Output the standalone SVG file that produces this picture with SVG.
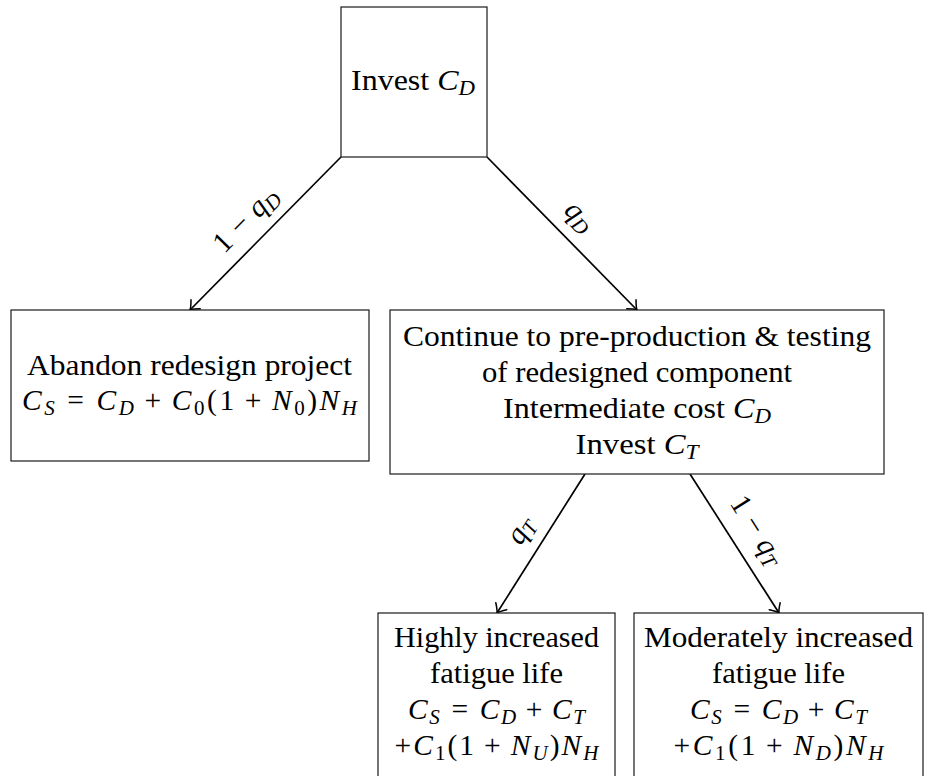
<svg xmlns="http://www.w3.org/2000/svg" width="933" height="776" viewBox="0 0 933 776">
<style>
.box { fill: #fff; stroke: #1a1a1a; stroke-width: 1.2; }
.t { font-family: "Liberation Serif", "Times New Roman", serif; font-size: 29.5px; fill: #000; }
.c { text-anchor: middle; }
.m { font-style: italic; }
.s { font-size: 21px; }
.arr { stroke: #000; stroke-width: 1.7; fill: none; marker-end: url(#ah); }
</style>
<defs>
<marker id="ah" viewBox="-10 -8 12 16" refX="0" refY="0" markerWidth="12" markerHeight="16" markerUnits="userSpaceOnUse" orient="auto" overflow="visible">
<path d="M-8,-6.5 Q-3,-1.5 0,0 Q-3,1.5 -8,6.5" fill="none" stroke="#000" stroke-width="1.5" stroke-linecap="round"/>
</marker>
</defs>

<g id="connectors">
<line class="arr" x1="341" y1="157" x2="190" y2="310"/>
<line class="arr" x1="487" y1="157" x2="637" y2="310"/>
<line class="arr" x1="585" y1="474" x2="497" y2="613"/>
<line class="arr" x1="690" y1="474" x2="779" y2="613"/>
<g transform="translate(252,226) rotate(-45.4)"><text class="t c" x="0" y="0">1<tspan dx="9">−</tspan><tspan class="m" dx="9">q</tspan><tspan class="m s" dy="5">D</tspan></text></g>
<g transform="translate(573.4,222.3) rotate(45.6)"><text class="t c" x="0" y="0"><tspan class="m">q</tspan><tspan class="m s" dy="5">D</tspan></text></g>
<g transform="translate(527.7,535.1) rotate(-57.8)"><text class="t c" x="0" y="0"><tspan class="m">q</tspan><tspan class="m s" dy="5">T</tspan></text></g>
<g transform="translate(749.5,535) rotate(57.8)"><text class="t c" x="0" y="0">1<tspan dx="9">−</tspan><tspan class="m" dx="9">q</tspan><tspan class="m s" dy="5">T</tspan></text></g>
</g>

<g id="invest">
<rect class="box" x="341" y="7" width="146" height="150"/>
<text class="t" x="351" y="90" textLength="124" lengthAdjust="spacingAndGlyphs">Invest <tspan class="m">C</tspan><tspan class="m s" dy="5">D</tspan></text>
</g>

<g id="abandon">
<rect class="box" x="11" y="310" width="358" height="151"/>
<text class="t" x="27" y="375" textLength="325" lengthAdjust="spacingAndGlyphs">Abandon redesign project</text>
<text class="t" x="22" y="410" textLength="335" lengthAdjust="spacing"><tspan class="m">C</tspan><tspan class="m s" dy="5">S</tspan><tspan dy="-5" dx="10">=</tspan><tspan class="m" dx="10">C</tspan><tspan class="m s" dy="5">D</tspan><tspan dy="-5" dx="8">+</tspan><tspan class="m" dx="8">C</tspan><tspan class="s" dy="5">0</tspan><tspan dy="-5">(1</tspan><tspan dx="8">+</tspan><tspan class="m" dx="8">N</tspan><tspan class="s" dy="5">0</tspan><tspan dy="-5">)</tspan><tspan class="m">N</tspan><tspan class="m s" dy="5">H</tspan></text>
</g>

<g id="continue">
<rect class="box" x="390" y="310" width="494" height="164"/>
<text class="t" x="403" y="346" textLength="468" lengthAdjust="spacingAndGlyphs">Continue to pre-production &amp; testing</text>
<text class="t" x="482" y="382" textLength="310" lengthAdjust="spacingAndGlyphs">of redesigned component</text>
<text class="t" x="503" y="418" textLength="268" lengthAdjust="spacingAndGlyphs">Intermediate cost <tspan class="m">C</tspan><tspan class="m s" dy="5">D</tspan></text>
<text class="t" x="575.5" y="454" textLength="123" lengthAdjust="spacingAndGlyphs">Invest <tspan class="m">C</tspan><tspan class="m s" dy="5">T</tspan></text>
</g>

<g id="highly">
<rect class="box" x="378" y="613" width="237" height="200"/>
<text class="t" x="394" y="647" textLength="205" lengthAdjust="spacingAndGlyphs">Highly increased</text>
<text class="t" x="430" y="683" textLength="133" lengthAdjust="spacingAndGlyphs">fatigue life</text>
<text class="t" x="408" y="719" textLength="177" lengthAdjust="spacing"><tspan class="m">C</tspan><tspan class="m s" dy="5">S</tspan><tspan dy="-5" dx="10">=</tspan><tspan class="m" dx="10">C</tspan><tspan class="m s" dy="5">D</tspan><tspan dy="-5" dx="8">+</tspan><tspan class="m" dx="8">C</tspan><tspan class="m s" dy="5">T</tspan></text>
<text class="t" x="394.5" y="755" textLength="204" lengthAdjust="spacing">+<tspan class="m">C</tspan><tspan class="s" dy="5">1</tspan><tspan dy="-5">(1</tspan><tspan dx="8">+</tspan><tspan class="m" dx="8">N</tspan><tspan class="m s" dy="5">U</tspan><tspan dy="-5">)</tspan><tspan class="m">N</tspan><tspan class="m s" dy="5">H</tspan></text>
</g>

<g id="moderately">
<rect class="box" x="634" y="613" width="289" height="200"/>
<text class="t" x="644" y="647" textLength="269" lengthAdjust="spacingAndGlyphs">Moderately increased</text>
<text class="t" x="712" y="683" textLength="133" lengthAdjust="spacingAndGlyphs">fatigue life</text>
<text class="t" x="690" y="719" textLength="177" lengthAdjust="spacing"><tspan class="m">C</tspan><tspan class="m s" dy="5">S</tspan><tspan dy="-5" dx="10">=</tspan><tspan class="m" dx="10">C</tspan><tspan class="m s" dy="5">D</tspan><tspan dy="-5" dx="8">+</tspan><tspan class="m" dx="8">C</tspan><tspan class="m s" dy="5">T</tspan></text>
<text class="t" x="673.5" y="755" textLength="210" lengthAdjust="spacing">+<tspan class="m">C</tspan><tspan class="s" dy="5">1</tspan><tspan dy="-5">(1</tspan><tspan dx="8">+</tspan><tspan class="m" dx="8">N</tspan><tspan class="m s" dy="5">D</tspan><tspan dy="-5">)</tspan><tspan class="m">N</tspan><tspan class="m s" dy="5">H</tspan></text>
</g>
</svg>
